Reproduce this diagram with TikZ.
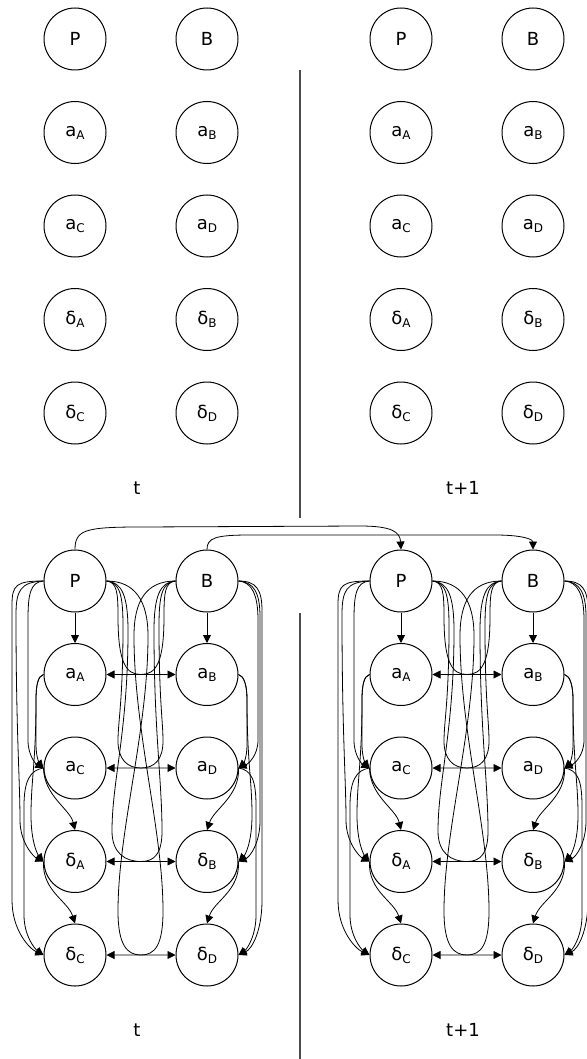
\documentclass[tikz,border=0pt]{standalone}
\usepackage{fontspec}
\setmainfont{DejaVu Sans}
\usetikzlibrary{arrows.meta}
\tikzset{
 var/.style={circle, draw, line width=1pt, minimum size=62pt, inner sep=0pt, font=\fontsize{18}{18}\selectfont},
 arr/.style={-{Triangle[length=8pt,width=8pt]}, line width=0.8pt},
 divider/.style={line width=1.2pt, black!70},
 lbl/.style={font=\fontsize{18}{18}\selectfont}
}
\newcommand\mysub[1]{\raisebox{-3pt}{\fontsize{12}{12}\selectfont #1}}
\newcommand\mknodes[1]{%
 \node[var] (#1P) at (75,0) {P};
 \node[var] (#1B) at (207,0) {B};
 \node[var] (#1aA) at (75,93.5) {a\mysub{A}};
 \node[var] (#1aB) at (207,93.5) {a\mysub{B}};
 \node[var] (#1aC) at (75,187) {a\mysub{C}};
 \node[var] (#1aD) at (207,187) {a\mysub{D}};
 \node[var] (#1dA) at (75,280.5) {δ\mysub{A}};
 \node[var] (#1dB) at (207,280.5) {δ\mysub{B}};
 \node[var] (#1dC) at (75,374) {δ\mysub{C}};
 \node[var] (#1dD) at (207,374) {δ\mysub{D}};
}
\newcommand\mkedges[1]{%
 % straight
 \draw[arr] (#1P) -- (#1aA);
 \draw[arr] (#1B) -- (#1aB);
 % left column
 \draw[arr] (#1P.west) .. controls (30,1) and (28,14) .. (28,39) -- (28,159) .. controls (28,175) and (36,183) .. (#1aC.west);
 \draw[arr] (#1P.west) .. controls (20,1) and (16,10) .. (16,34) .. controls (16,150) and (20,200) .. (20,239) .. controls (20,262) and (34,276) .. (#1dA.west);
 \draw[arr] (#1P.west) .. controls (16,0) and (12,4) .. (12,24) -- (12,319) .. controls (12,350) and (30,368) .. (#1dC.west);
 \draw[arr] (#1aA.west) .. controls (38,95) and (36,104) .. (36,119) -- (36,164) .. controls (36,177) and (40,183) .. (#1aC.west);
 \draw[arr] (#1aA.west) .. controls (38,95) and (36,104) .. (36,119) .. controls (36,180) and (31,200) .. (31,234) .. controls (31,262) and (38,274) .. (#1dA.west);
 \draw[arr] (#1aC.west) .. controls (44,215) and (70,228) .. (#1dA.north);
 \draw[arr] (#1aC.west) .. controls (30,189) and (24,200) .. (24,225) -- (24,334) .. controls (24,355) and (35,368) .. (#1dC.west);
 \draw[arr] (#1dA.west) .. controls (42,310) and (68,320) .. (#1dC.north);
 % right column
 \draw[arr] (#1B.east) .. controls (252,1) and (258,14) .. (258,39) -- (258,159) .. controls (258,175) and (248,183) .. (#1aD.east);
 \draw[arr] (#1B.east) .. controls (254,1) and (260,12) .. (260,36) -- (260,240) .. controls (260,262) and (250,276) .. (#1dB.east);
 \draw[arr] (#1B.east) .. controls (256,0) and (262,8) .. (262,30) -- (262,319) .. controls (262,350) and (252,368) .. (#1dD.east);
 \draw[arr] (#1aB.east) .. controls (244,95) and (247,104) .. (247,119) -- (247,164) .. controls (247,177) and (243,183) .. (#1aD.east);
 \draw[arr] (#1aB.east) .. controls (244,95) and (247,104) .. (247,119) .. controls (247,180) and (252,200) .. (252,234) .. controls (252,262) and (245,274) .. (#1dB.east);
 \draw[arr] (#1aD.east) .. controls (240,215) and (214,228) .. (#1dB.north);
 \draw[arr] (#1aD.east) .. controls (252,189) and (256,200) .. (256,225) -- (256,334) .. controls (256,355) and (247,368) .. (#1dD.east);
 \draw[arr] (#1dB.east) .. controls (240,310) and (214,320) .. (#1dD.north);
 % middle
 \draw[arr] (#1P.east) .. controls (117,1) and (118,12) .. (118,35) .. controls (118,82) and (126,93.5) .. (141,93.5) -- (#1aB.west);
 \draw[arr] (#1B.west) .. controls (165,1) and (164,12) .. (164,35) .. controls (164,82) and (156,93.5) .. (141,93.5) -- (#1aA.east);
 \draw[arr] (#1P.east) .. controls (120,1) and (123,15) .. (123,45) .. controls (123,120) and (118,140) .. (118,160) .. controls (118,178) and (127,187) .. (141,187) -- (#1aD.west);
 \draw[arr] (#1B.west) .. controls (162,1) and (159,15) .. (159,45) .. controls (159,120) and (163,140) .. (163,160) .. controls (163,178) and (155,187) .. (141,187) -- (#1aC.east);
 \draw[arr] (#1P.east) .. controls (122,1) and (128,15) .. (128,50) .. controls (128,150) and (112,200) .. (112,250) .. controls (112,272) and (125,280.5) .. (141,280.5) -- (#1dB.west);
 \draw[arr] (#1B.west) .. controls (160,1) and (154,15) .. (154,50) .. controls (154,150) and (162,200) .. (162,250) .. controls (162,272) and (155,280.5) .. (141,280.5) -- (#1dA.east);
 \draw[arr] (#1P.east) .. controls (135,0) and (148,20) .. (148,55) .. controls (148,150) and (118,250) .. (118,330) .. controls (118,364) and (127,374) .. (141,374) -- (#1dD.west);
 \draw[arr] (#1B.west) .. controls (146,0) and (134,20) .. (134,55) .. controls (134,150) and (163,250) .. (163,330) .. controls (163,364) and (155,374) .. (141,374) -- (#1dC.east);
}
\begin{document}
\begin{tikzpicture}[x=1pt,y=-1pt]
\useasboundingbox (0,0) rectangle (586,1059);
% top half
\begin{scope}[shift={(0,39)}]\mknodes{t}\end{scope}
\begin{scope}[shift={(326,39)}]\mknodes{u}\end{scope}
\node[lbl] (tlab) at (137,488) {t};
\node[lbl] (ulab) at (463,488) {t+1};
\coordinate (d1a) at (300,70);
\coordinate (d1b) at (300,518);
\draw[divider] (d1a) -- (d1b);
% bottom half
\begin{scope}[shift={(0,581)}]\mknodes{}\mkedges{}\end{scope}
\begin{scope}[shift={(326,581)}]\mknodes{n}\mkedges{n}\end{scope}
\node[lbl] (tlab2) at (137,1030) {t};
\node[lbl] (ulab2) at (463,1030) {t+1};
\coordinate (d2a) at (300,613);
\coordinate (d2b) at (300,1059);
\draw[divider] (d2a) -- (d2b);
% cross-slice
\draw[arr] (P.north) .. controls (75,530) and (85,527) .. (140,527) -- (360,526) .. controls (392,526) and (400,532) .. (nP.north);
\draw[arr] (B.north) .. controls (207,538) and (215,535) .. (250,535) -- (495,535) .. controls (525,535) and (533,540) .. (nB.north);
\end{tikzpicture}
\end{document}
